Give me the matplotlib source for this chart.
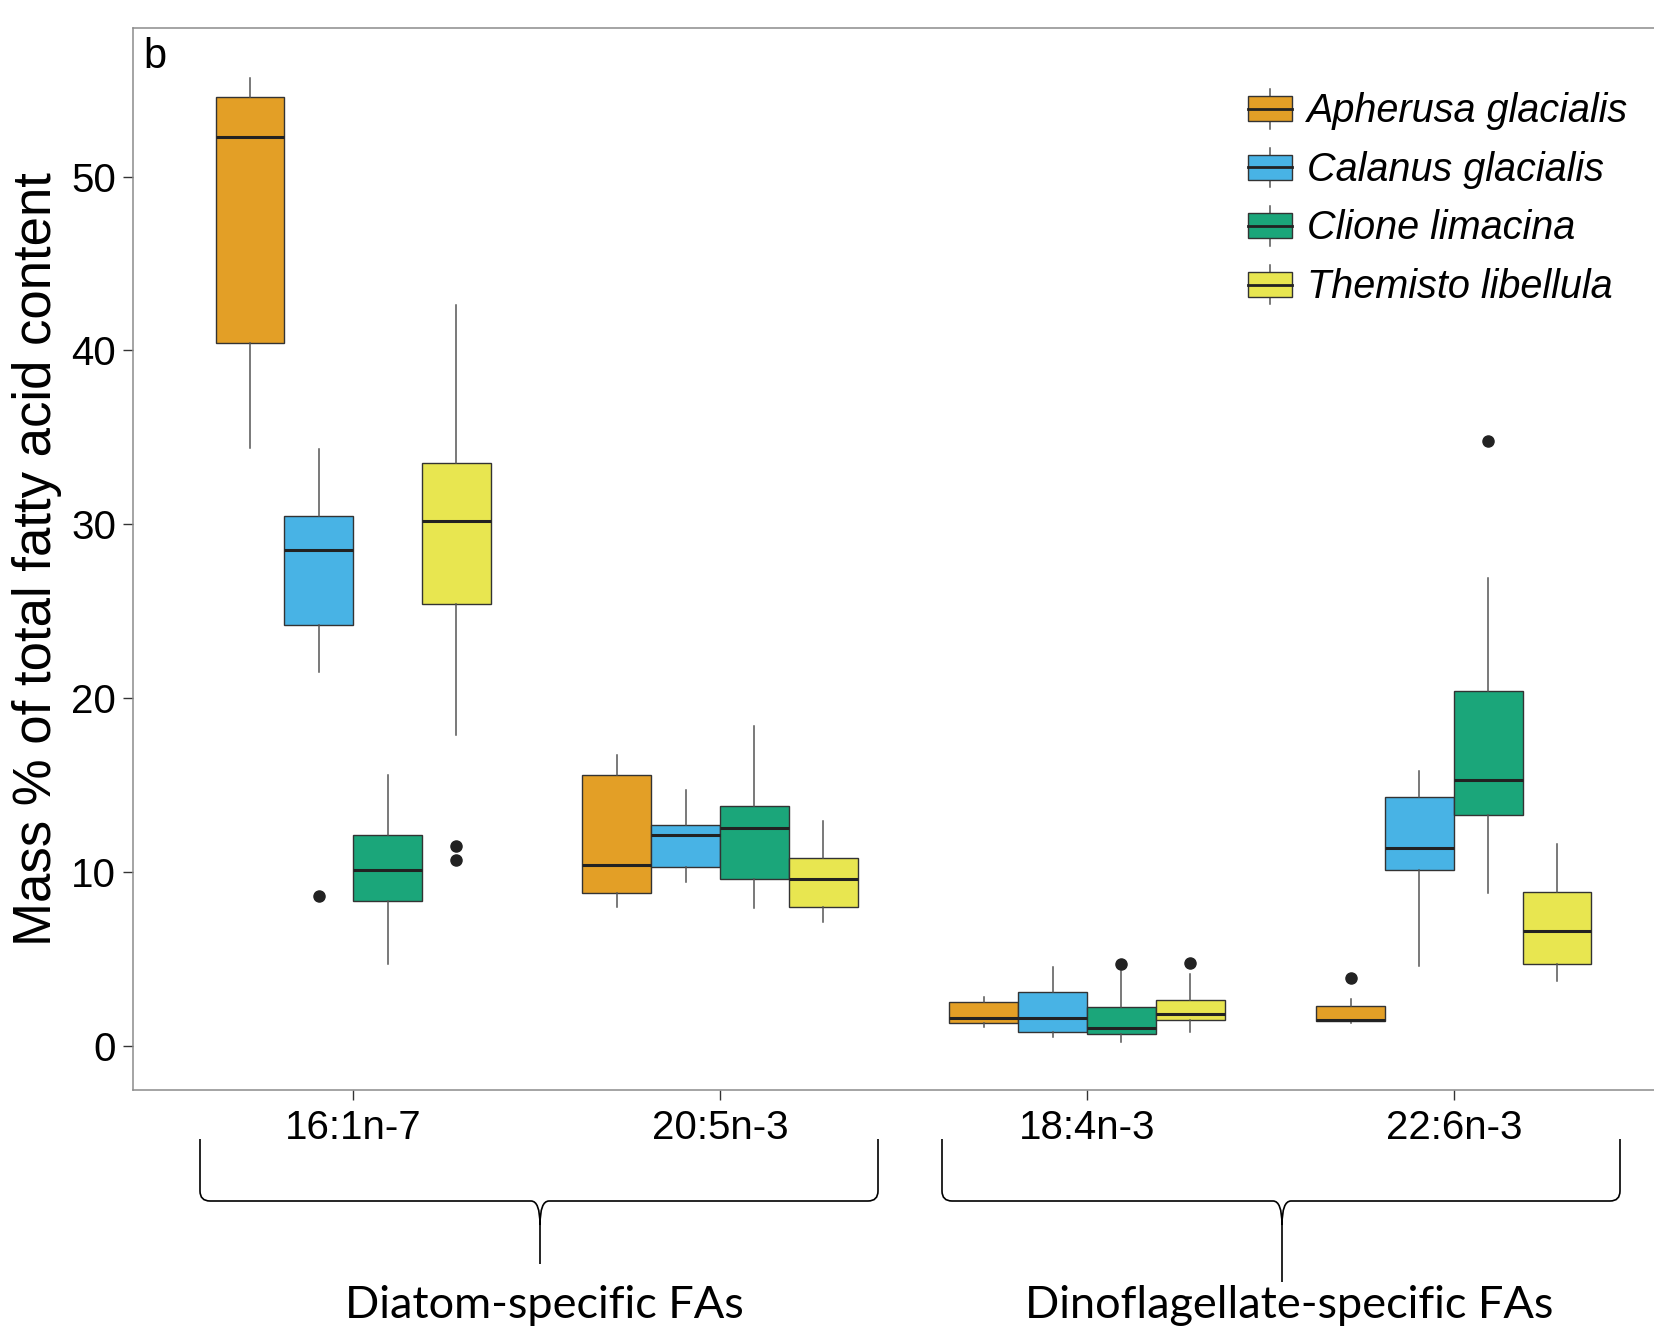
import matplotlib
matplotlib.use('Agg')
import matplotlib.pyplot as plt
from matplotlib.patches import Rectangle, PathPatch
from matplotlib.path import Path
from matplotlib.lines import Line2D
from matplotlib.legend_handler import HandlerBase
import matplotlib.transforms as mtransforms

plt.rcParams['font.family'] = ['Liberation Sans', 'DejaVu Sans']

fatty_acids = ['16:1n-7', '20:5n-3', '18:4n-3', '22:6n-3']
species = ['Apherusa glacialis', 'Calanus glacialis', 'Clione limacina', 'Themisto libellula']
colors = ['#E39F26', '#48B3E5', '#1BA67A', '#E8E650']
groups = ['Diatom-specific FAs', 'Dinoflagellate-specific FAs']

# rows = fatty acid, columns = species
whislo = [[34.4, 21.5, 4.7, 17.9],
          [8.0, 9.4, 7.9, 7.1],
          [1.1, 0.5, 0.2, 0.8],
          [1.3, 4.6, 8.8, 3.7]]
q1 = [[40.4, 24.2, 8.3, 25.4],
      [8.8, 10.3, 9.6, 8.0],
      [1.3, 0.8, 0.7, 1.5],
      [1.4, 10.1, 13.3, 4.7]]
med = [[52.3, 28.5, 10.1, 30.2],
       [10.4, 12.1, 12.5, 9.6],
       [1.6, 1.6, 1.0, 1.8],
       [1.5, 11.4, 15.3, 6.6]]
q3 = [[54.6, 30.5, 12.1, 33.5],
      [15.6, 12.7, 13.8, 10.8],
      [2.5, 3.1, 2.2, 2.6],
      [2.3, 14.3, 20.4, 8.85]]
whishi = [[55.7, 34.3, 15.6, 42.6],
          [16.7, 14.7, 18.4, 12.9],
          [2.8, 4.5, 4.3, 4.1],
          [2.7, 15.8, 26.9, 11.6]]
fliers = [[[], [8.6], [], [11.5, 10.7]],
          [[], [], [], []],
          [[], [], [4.7], [4.75]],
          [[3.9], [], [34.8], []]]

W, H = 1654, 1331
fig = plt.figure(figsize=(W / 100, H / 100), dpi=100)
ax = fig.add_axes([133 / W, (H - 1090) / H, (1674 - 133) / W, (1090 - 28) / H])

bw = 0.1875
stats, pos, fcs = [], [], []
for i in range(len(fatty_acids)):
    for j in range(len(species)):
        stats.append(dict(whislo=whislo[i][j], q1=q1[i][j], med=med[i][j],
                          q3=q3[i][j], whishi=whishi[i][j], fliers=fliers[i][j]))
        pos.append(i + 1 + (j - 1.5) * bw)
        fcs.append(colors[j])

bp = ax.bxp(stats, positions=pos, widths=bw, patch_artist=True, showcaps=False,
            boxprops=dict(edgecolor='#333333', linewidth=1.0),
            medianprops=dict(color='#222222', linewidth=2.2),
            whiskerprops=dict(color='#555555', linewidth=1.1),
            flierprops=dict(marker='o', markerfacecolor='#222222',
                            markeredgecolor='#222222', markersize=8))
for b, c in zip(bp['boxes'], fcs):
    b.set_facecolor(c)

ax.set_xlim(0.4, 4.6)
ax.set_ylim(-2.55, 58.55)
ax.set_xticks(range(1, 5))
ax.set_xticklabels(fatty_acids)
ax.set_yticks([0, 10, 20, 30, 40, 50])
ax.tick_params(labelsize=29, length=7, width=1, color='#333333', pad=5)
ax.tick_params(axis='x', pad=7)
for s in ax.spines.values():
    s.set_color('#8c8c8c')
    s.set_linewidth(1.1)

fig.text(37 / W, 1 - 559 / H, 'Mass % of total fatty acid content', rotation=90,
         ha='center', va='center', fontsize=38)
fig.text(155 / W, 1 - 57 / H, 'b', ha='center', va='center', fontsize=30)


class BoxHandler(HandlerBase):
    def create_artists(self, legend, orig_handle, xdescent, ydescent, width, height,
                       fontsize, trans):
        x0, y0 = -xdescent, -ydescent
        wk = 0.185 * height
        rect = Rectangle((x0, y0 + wk), width, height - 2 * wk,
                         facecolor=orig_handle.get_facecolor(), edgecolor='#333333',
                         linewidth=1.0, transform=trans)
        mline = Line2D([x0, x0 + width], [y0 + height / 2] * 2, color='#222222',
                       linewidth=2.0, transform=trans)
        lo = Line2D([x0 + width / 2] * 2, [y0, y0 + wk], color='#555555',
                    linewidth=1.1, transform=trans)
        hi = Line2D([x0 + width / 2] * 2, [y0 + height - wk, y0 + height],
                    color='#555555', linewidth=1.1, transform=trans)
        return [lo, hi, rect, mline]


handles = [Rectangle((0, 0), 1, 1, facecolor=c) for c in colors]
ax.legend(handles, species, handler_map={Rectangle: BoxHandler()},
          loc='upper left', bbox_to_anchor=(1248 / W, 1 - 89 / H),
          bbox_transform=fig.transFigure, frameon=False,
          prop=dict(size=28.5, style='italic'), handlelength=1.11, handleheight=1.16,
          labelspacing=0.44, handletextpad=0.38, borderpad=0, borderaxespad=0)

# curly braces under the axis, in pixel coordinates (y from top)
pix = mtransforms.Affine2D().scale(1 / W, -1 / H).translate(0, 1) + fig.transFigure


def brace(x0, x1, xm, ytop, ybar, ytip, r=10):
    verts = [(x0, ytop), (x0, ybar - r), (x0, ybar), (x0 + r, ybar),
             (xm - 9, ybar), (xm, ybar), (xm, ybar + 24), (xm, ytip),
             (xm, ybar + 24), (xm, ybar), (xm + 9, ybar),
             (x1 - r, ybar), (x1, ybar), (x1, ybar - r), (x1, ytop)]
    codes = [Path.MOVETO, Path.LINETO, Path.CURVE3, Path.CURVE3,
             Path.LINETO, Path.CURVE3, Path.CURVE3, Path.LINETO,
             Path.MOVETO, Path.CURVE3, Path.CURVE3,
             Path.LINETO, Path.CURVE3, Path.CURVE3, Path.LINETO]
    fig.add_artist(PathPatch(Path(verts, codes), facecolor='none', edgecolor='black',
                             linewidth=1.2, transform=pix))


brace(200, 878, 540, 1139, 1201, 1264)
brace(942, 1620, 1282, 1139, 1201, 1282)

fig.text(544 / W, 1 - 1305 / H, groups[0], ha='center', va='center',
         fontsize=32.5, family=['Lato', 'DejaVu Sans'])
fig.text(1289 / W, 1 - 1305 / H, groups[1], ha='center', va='center',
         fontsize=32.5, family=['Lato', 'DejaVu Sans'])

fig.savefig('out.png', dpi=100)
